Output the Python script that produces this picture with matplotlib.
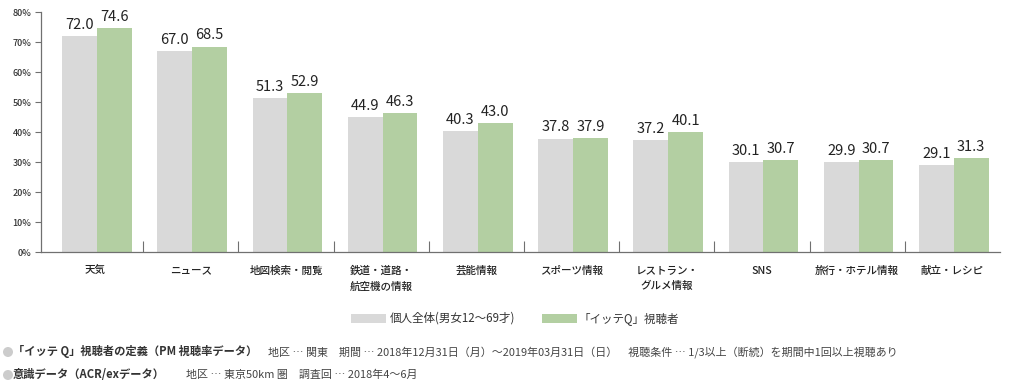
import numpy as np
import matplotlib
matplotlib.use("Agg")
import matplotlib.pyplot as plt
from matplotlib.patches import Rectangle, Ellipse

plt.rcParams['font.family'] = ['Noto Sans CJK JP', 'DejaVu Sans']

# データ
categories = ["天気", "ニュース", "地図検索・閲覧", "鉄道・道路・\n航空機の情報", "芸能情報",
              "スポーツ情報", "レストラン・\nグルメ情報", "SNS", "旅行・ホテル情報", "献立・レシピ"]
kojin = [72.0, 67.0, 51.3, 44.9, 40.3, 37.8, 37.2, 30.1, 29.9, 29.1]
itteq = [74.6, 68.5, 52.9, 46.3, 43.0, 37.9, 40.1, 30.7, 30.7, 31.3]
yticks = [0, 10, 20, 30, 40, 50, 60, 70, 80]
legend_labels = ["個人全体(男女12～69才)", "「イッテQ」視聴者"]
note_bold = ["「イッテ Q」視聴者の定義（PM 視聴率データ）", "意識データ（ACR/exデータ）"]
note_text = ["地区 … 関東　期間 … 2018年12月31日（月）～2019年03月31日（日）　視聴条件 … 1/3以上（断続）を期間中1回以上視聴あり",
             "地区 … 東京50km 圏　調査回 … 2018年4～6月"]

gray = "#d9d9d9"
green = "#b3cfa2"
axcol = "#707070"
W, H = 1018, 386

fig = plt.figure(figsize=(W / 100, H / 100), dpi=100)
ax = fig.add_axes([41 / W, (H - 252) / H, (1000 - 41) / W, 240 / H])

x = np.arange(len(categories))
bw = 0.365
ax.bar(x - bw / 2 + 0.015, kojin, width=bw, color=gray, linewidth=0)
ax.bar(x + bw / 2 + 0.015, itteq, width=bw, color=green, linewidth=0)

for i in range(len(categories)):
    ax.annotate(f"{kojin[i]:.1f}", (x[i] - bw / 2 + 0.015, kojin[i]), xytext=(0, 3),
                textcoords="offset points", ha="center", va="bottom", fontsize=10.5, color="#222222")
    ax.annotate(f"{itteq[i]:.1f}", (x[i] + bw / 2 + 0.015, itteq[i]), xytext=(0, 3),
                textcoords="offset points", ha="center", va="bottom", fontsize=10.5, color="#222222")

ax.set_ylim(0, 80)
ax.set_xlim(-0.5 - 7 / 95.2, 9.5)
ax.set_yticks(yticks)
ax.set_yticklabels([f"{v}%" for v in yticks], fontsize=6.5, color="#333333", fontweight="medium")
ax.tick_params(axis="y", length=4, color=axcol, width=0.8, pad=3)

# 区切りの目盛り
ax.set_xticks(np.arange(len(categories) - 1) + 0.5, minor=False)
ax.set_xticklabels([])
ax.tick_params(axis="x", direction="in", length=8, color=axcol, width=0.8)
for i, c in enumerate(categories):
    ax.text(x[i], -4.5, c, ha="center", va="top", fontsize=7.6, color="#222222", linespacing=1.7,
            fontweight="medium")

for s in ["top", "right"]:
    ax.spines[s].set_visible(False)
for s in ["left", "bottom"]:
    ax.spines[s].set_color(axcol)
    ax.spines[s].set_linewidth(0.9)

# 凡例
fig.patches.append(Rectangle((351 / W, (H - 323) / H), 35 / W, 9 / H, transform=fig.transFigure,
                             color=gray, linewidth=0))
fig.text(390 / W, (H - 318.5) / H, legend_labels[0], fontsize=8.3, va="center", color="#333333")
fig.patches.append(Rectangle((542 / W, (H - 323) / H), 35 / W, 9 / H, transform=fig.transFigure,
                             color=green, linewidth=0))
fig.text(578 / W, (H - 318.5) / H, legend_labels[1], fontsize=8.3, va="center", color="#333333")

# 注記
note_y = [352, 375]
note_x = [268, 186]
for i in range(2):
    yy = (H - note_y[i]) / H
    fig.patches.append(Ellipse((8 / W, yy), 10 / W, 10 / H, transform=fig.transFigure,
                               color="#cccccc", linewidth=0))
    fig.text(13 / W, yy, note_bold[i], fontsize=8.1, fontweight="bold", va="center", color="#333333")
    fig.text(note_x[i] / W, yy, note_text[i], fontsize=7.9, va="center", color="#444444")

fig.savefig("out.png", dpi=100)
